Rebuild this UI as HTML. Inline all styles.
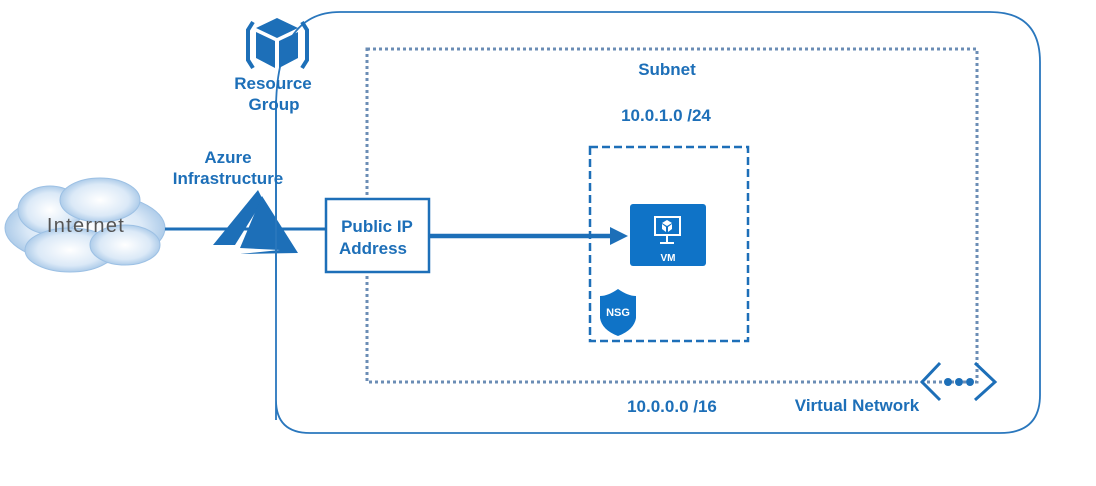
<!DOCTYPE html>
<html><head><style>
body{margin:0;background:#fff;}
svg{display:block;font-family:"Liberation Sans",sans-serif;}
</style></head><body>
<svg width="1096" height="486" viewBox="0 0 1096 486">
<defs>
<radialGradient id="cg" cx="0.5" cy="0.5" r="0.6">
<stop offset="0" stop-color="#ffffff"/><stop offset="0.6" stop-color="#dbe9f7"/><stop offset="1" stop-color="#8fb8e0"/>
</radialGradient>
</defs>
<path d="M276,420 L276,110 Q276,12 340,12 L990,12 Q1040,12 1040,62 L1040,395 Q1040,433 1000,433 L310,433 Q276,433 276,400" fill="none" stroke="#2a77bd" stroke-width="1.8"/>
<rect x="367" y="49" width="610" height="333" fill="none" stroke="#6b8db5" stroke-width="3" stroke-dasharray="3,3"/>
<rect x="590" y="147" width="158" height="194" fill="none" stroke="#1d6fb8" stroke-width="2.5" stroke-dasharray="8,4"/>
<g fill="url(#cg)" stroke="#9cc0e4" stroke-width="1">
<ellipse cx="85" cy="228" rx="80" ry="36"/>
<ellipse cx="50" cy="210" rx="32" ry="24"/>
<ellipse cx="100" cy="200" rx="40" ry="22"/>
<ellipse cx="70" cy="250" rx="45" ry="22"/>
<ellipse cx="125" cy="245" rx="35" ry="20"/>
</g>
<text x="86" y="232" font-size="20" fill="#555" text-anchor="middle" letter-spacing="1.3">Internet</text>
<line x1="165" y1="229" x2="326" y2="229" stroke="#1d6fb8" stroke-width="3"/>
<polygon points="258,190 213,245 235,245 263,200" fill="#1d6fb8"/>
<polygon points="262,196 240,248 280,250 240,254 298,253" fill="#1d6fb8"/>
<line x1="276" y1="100" x2="276" y2="290" stroke="#2a77bd" stroke-width="1.8"/>
<g fill="none" stroke="#1d6fb8" stroke-width="4">
<path d="M253,22 L248,30 L248,60 L253,68"/>
<path d="M302,22 L307,30 L307,60 L302,68"/>
</g>
<polygon points="277,18 298,28 277,38 256,28" fill="#1d6fb8"/>
<polygon points="256,32 275,41 275,68 256,58" fill="#1d6fb8"/>
<polygon points="279,41 298,32 298,58 279,68" fill="#1d6fb8"/>
<g font-size="17" font-weight="bold" fill="#1d6fb8" text-anchor="middle">
<text x="273" y="89">Resource</text>
<text x="274" y="110">Group</text>
<text x="228" y="163">Azure</text>
<text x="228" y="184">Infrastructure</text>
</g>
<rect x="326" y="199" width="103" height="73" fill="#fff" stroke="#1d6fb8" stroke-width="2.5"/>
<text x="377" y="232" font-size="17" font-weight="bold" fill="#1d6fb8" text-anchor="middle">Public IP</text>
<text x="373" y="254" font-size="17" font-weight="bold" fill="#1d6fb8" text-anchor="middle">Address</text>
<line x1="429" y1="236" x2="612" y2="236" stroke="#1d6fb8" stroke-width="4.5"/>
<polygon points="610,227 628,236 610,245" fill="#1d6fb8"/>
<rect x="630" y="204" width="76" height="62" rx="3" fill="#0f73c7"/>
<rect x="655" y="217" width="25" height="18" fill="none" stroke="#fff" stroke-width="2"/>
<line x1="667" y1="235" x2="667" y2="242" stroke="#fff" stroke-width="2"/>
<line x1="660" y1="243" x2="674" y2="243" stroke="#fff" stroke-width="2"/>
<polygon points="667,220 672,223 667,226 662,223" fill="#fff"/>
<polygon points="662,224 666,227 666,232 662,229" fill="#fff"/>
<polygon points="668,227 672,224 672,229 668,232" fill="#fff"/>
<text x="668" y="261" font-size="10" font-weight="bold" fill="#fff" text-anchor="middle">VM</text>
<path d="M618,289 Q608,296 600,296 L600,318 Q602,330 618,336 Q634,330 636,318 L636,296 Q628,296 618,289Z" fill="#0f73c7"/>
<text x="618" y="316" font-size="11" font-weight="bold" fill="#fff" text-anchor="middle">NSG</text>
<g font-size="17" font-weight="bold" fill="#1d6fb8" text-anchor="middle">
<text x="667" y="75">Subnet</text>
<text x="666" y="121">10.0.1.0 /24</text>
<text x="672" y="412">10.0.0.0 /16</text>
<text x="857" y="411">Virtual Network</text>
</g>
<g fill="none" stroke="#1d6fb8" stroke-width="3">
<path d="M940,363 L922,382 L940,400"/>
<path d="M975,363 L995,382 L975,400"/>
</g>
<circle cx="948" cy="382" r="4" fill="#1d6fb8"/>
<circle cx="959" cy="382" r="4" fill="#1d6fb8"/>
<circle cx="970" cy="382" r="4" fill="#1d6fb8"/>
</svg>
</body></html>
